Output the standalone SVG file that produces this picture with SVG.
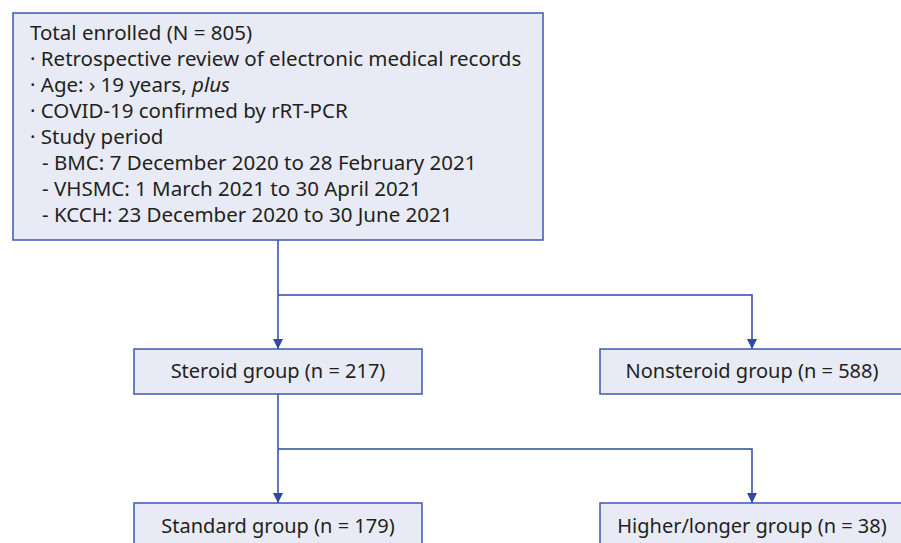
<svg xmlns="http://www.w3.org/2000/svg" width="901" height="543" viewBox="0 0 901 543">
<defs>
<style>
.box{fill:#e8ebf5;stroke:#3b58b2;stroke-width:1.5}
.t{font-family:"Noto Sans","Open Sans",sans-serif;font-size:20px;fill:#231f20}
.tt{font-size:20.5px}
.c{text-anchor:middle}
.ln{fill:none;stroke:#2e48a4;stroke-width:1.5}
</style>
<marker id="ah" viewBox="0 0 10 10" refX="10" refY="5" markerWidth="10" markerHeight="11" markerUnits="userSpaceOnUse" orient="auto">
<path d="M0,0 L10,5 L0,10 Z" fill="#2e48a4"/>
</marker>
</defs>
<rect width="901" height="543" fill="#ffffff"/>
<g id="connectors">
<path class="ln" d="M278,240 V295"/>
<path class="ln" d="M278,295 V349" marker-end="url(#ah)"/>
<path class="ln" d="M278,295 H752 V349" marker-end="url(#ah)"/>
<path class="ln" d="M278,394 V449"/>
<path class="ln" d="M278,449 V503" marker-end="url(#ah)"/>
<path class="ln" d="M278,449 H752 V503" marker-end="url(#ah)"/>
</g>
<g id="total">
<rect class="box" x="13" y="13" width="530" height="227"/>
<text class="t tt" x="30" y="40">Total enrolled (N = 805)</text>
<text class="t tt" x="30" y="66">· Retrospective review of electronic medical records</text>
<text class="t tt" x="30" y="92">· Age: › 19 years, <tspan font-style="italic">plus</tspan></text>
<text class="t tt" x="30" y="118">· COVID-19 confirmed by rRT-PCR</text>
<text class="t tt" x="30" y="144">· Study period</text>
<text class="t tt" x="42" y="170">- BMC: 7 December 2020 to 28 February 2021</text>
<text class="t tt" x="42" y="196">- VHSMC: 1 March 2021 to 30 April 2021</text>
<text class="t tt" x="42" y="222">- KCCH: 23 December 2020 to 30 June 2021</text>
</g>
<g id="steroid">
<rect class="box" x="134" y="349" width="288" height="45"/>
<text class="t c" x="278" y="378">Steroid group (n = 217)</text>
</g>
<g id="nonsteroid">
<rect class="box" x="600" y="349" width="310" height="45"/>
<text class="t c" x="752" y="378">Nonsteroid group (n = 588)</text>
</g>
<g id="standard">
<rect class="box" x="134" y="503" width="288" height="50"/>
<text class="t c" x="278" y="533">Standard group (n = 179)</text>
</g>
<g id="higher">
<rect class="box" x="600" y="503" width="310" height="50"/>
<text class="t c" x="752" y="533">Higher/longer group (n = 38)</text>
</g>
</svg>
